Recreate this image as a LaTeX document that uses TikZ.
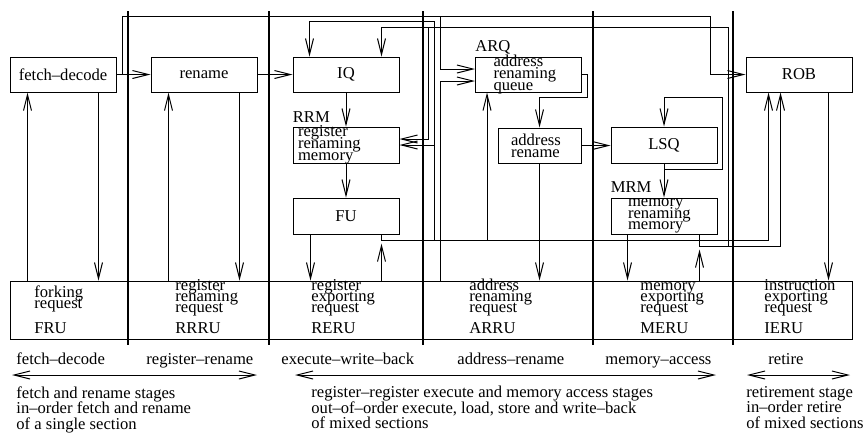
\documentclass[tikz,border=0pt]{standalone}
\usepackage{fontspec}
\setmainfont{Liberation Serif}
\usetikzlibrary{arrows.meta, calc}
\newcommand{\boxfont}{\fontsize{8.3}{5.9}\selectfont\lineskiplimit=-20pt\relax}
\newcommand{\unitfont}{\fontsize{8.3}{5.5}\selectfont\lineskiplimit=-20pt\relax}
\newcommand{\descfont}{\fontsize{8.3}{7.75}\selectfont\lineskiplimit=-20pt\relax}
\tikzset{%
    ln/.style={line width=0.5pt},
    lna/.style={line width=0.5pt, -{Straight Barb[length=8pt, width=4pt]}},
    lnda/.style={line width=0.5pt, {Straight Barb[length=8pt, width=4pt]}-{Straight Barb[length=8pt, width=4pt]}},
    sep/.style={line width=1.1pt},
    blk/.style={draw, line width=0.5pt, minimum width=53pt, minimum height=17.5pt, inner sep=0pt, font=\boxfont},
    multi/.style 2 args={inner xsep=#1, inner ysep=-2pt, text width=#2, align=left},
    txt/.style={inner sep=0pt, align=left, font=\boxfont},
}
\begin{document}
\begin{tikzpicture}[x=0.5pt, y=-0.5pt]
    \useasboundingbox (0,0) rectangle (864,435);
    % section borders
    \foreach \x in {128,269,423,593,733} \draw[sep] (\x,11) -- (\x,345);
    % blocks
    \node[blk] (fd) at (63,74.5) {fetch--decode};
    \node[blk] (ren) at (204,74.5) {rename};
    \node[blk] (iq) at (346,74.5) {IQ};
    \node[blk, multi={9pt}{35pt}] (arq) at (528.5,74.5) {address\\renaming\\queue};
    \node[blk] (rob) at (799,74.5) {ROB};
    \node[blk, minimum height=18pt, multi={2.5pt}{48pt}] (rrm) at (346,145) {register\\renaming\\memory};
    \node[blk, minimum width=41.5pt, multi={6.5pt}{28.5pt}] (arn) at (539.5,145.5) {address\\rename};
    \node[blk, minimum height=18pt] (lsq) at (664,145) {LSQ};
    \node[blk, minimum height=18pt] (fu) at (346,216) {FU};
    \node[blk, minimum height=18pt, multi={8.5pt}{36pt}] (mrm) at (664,216) {memory\\renaming\\memory};
    \node[blk, minimum width=421pt, minimum height=29pt] (unit) at (431,310) {};
    \node[txt, anchor=base west] (rrml) at ($(rrm.north west)+(0,-4)$) {RRM};
    \node[txt, anchor=base west] (arql) at ($(arq.north west)+(0,-5)$) {ARQ};
    \node[txt, anchor=base west] (mrml) at ($(mrm.north west)+(0,-5)$) {MRM};
    % units
    \node[txt, font=\unitfont, anchor=south west] (fru) at (34,334) {forking\\request\\[7pt]FRU};
    \node[txt, font=\unitfont, anchor=south west] (rrru) at (175,334) {register\\renaming\\request\\[5pt]RRRU};
    \node[txt, font=\unitfont, anchor=south west] (reru) at (311,334) {register\\exporting\\request\\[5pt]RERU};
    \node[txt, font=\unitfont, anchor=south west] (arru) at (469,334) {address\\renaming\\request\\[5pt]ARRU};
    \node[txt, font=\unitfont, anchor=south west] (meru) at (640,334) {memory\\exporting\\request\\[5pt]MERU};
    \node[txt, font=\unitfont, anchor=south west] (ieru) at (764,334) {instruction\\exporting\\request\\[5pt]IERU};
    % attach points
    \coordinate (fdu) at ($(fd.south west)+(18,0)$);
    \coordinate (fdd) at ($(fd.south east)+(-18,0)$);
    \coordinate (renu) at ($(ren.south west)+(18,0)$);
    \coordinate (rend) at ($(ren.south east)+(-18,0)$);
    \coordinate (iqa) at ($(iq.north west)+(17,0)$);
    \coordinate (iqb) at ($(iq.north east)+(-18,0)$);
    \coordinate (fud) at ($(fu.south west)+(18,0)$);
    \coordinate (fuo) at ($(fu.south east)+(-18,0)$);
    \coordinate (fub) at ($(fuo)+(0,6)$);
    \coordinate (fj) at ($(fub)+(53,0)$);
    \coordinate (arqb) at ($(arq.south west)+(12,0)$);
    \coordinate (mrmd) at ($(mrm.south west)+(17,0)$);
    \coordinate (mo) at ($(mrm.south east)+(-18,0)$);
    \coordinate (mb) at ($(mo)+(0,12)$);
    \coordinate (mj) at ($(mb)+(29,0)$);
    \coordinate (rj) at ($(iqb)+(47,-29)$);
    \coordinate (rin1) at ($(rob.south west)+(23,0)$);
    \coordinate (rin2) at ($(rob.south west)+(35,0)$);
    \coordinate (robd) at ($(rob.south east)+(-24,0)$);
    \coordinate (fdj) at ($(fd.east)+(6,0)$);
    \coordinate (topr) at (710,16);
    \coordinate (topq) at (440,16);
    \coordinate (lsqr) at ($(lsq.east)+(5,0)$);
    % pipeline
    \draw[lna] (fd) -- (ren);
    \draw[lna] (ren) -- (iq);
    \draw[lna] (fdj) |- (topr) |- (rob.west);
    \draw[lna] (topq) |- ($(arq.west)+(0,-5.5)$);
    \draw[lna] (unit.north -| topq) |- ($(arq.west)+(0,6.5)$);
    \draw[lna] (iq) -- (rrm);
    \draw[lna] (rrm) -- (fu);
    \draw[lna] (arq.east) -- ++(5,0) |- ($(arn.north)+(0,-30)$) -- (arn.north);
    \draw[lna] (arn.east) -- (lsq.west |- arn.east);
    \draw[lna] (lsq) -- (mrm);
    \draw[lna] (lsq.south) |- ($(lsqr)+(0,24)$) |- ($(lsq.north)+(0,-29)$) -- (lsq.north);
    % FU bus
    \draw[lna] (fuo) -- (fub) -| (rin1);
    \draw[lna] (fj) |- ($(iqa)+(0,-35)$) -- (iqa);
    \draw[lna] (fj |- rrm.east) -- (rrm.east);
    \draw[lna] (fub -| arqb) -- (arqb);
    % memory bus
    \draw[lna] (mo) -- (mb) -| (rin2);
    \draw[lna] (mj) |- ($(iqb)+(0,-29)$) -- (iqb);
    \draw[lna] (rj) |- ($(rrm.east)+(0,-6)$);
    % units
    \draw[lna] (fdu |- unit.north) -- (fdu);
    \draw[lna] (fdd) -- (fdd |- unit.north);
    \draw[lna] (renu |- unit.north) -- (renu);
    \draw[lna] (rend) -- (rend |- unit.north);
    \draw[lna] (fud) -- (fud |- unit.north);
    \draw[lna] (fuo |- unit.north) -- ($(fuo)+(0,9)$);
    \draw[lna] (arn.south) -- (arn.south |- unit.north);
    \draw[lna] (mrmd) -- (mrmd |- unit.north);
    \draw[lna] (mo |- unit.north) -- ($(mo)+(0,15)$);
    \draw[lna] (robd) -- (robd |- unit.north);
    % stages
    \node[txt, anchor=base west] (sfd) at (16,364) {fetch--decode};
    \node[txt, anchor=base west] (srr) at (146,364) {register--rename};
    \node[txt, anchor=base west] (sew) at (281,364) {execute--write--back};
    \node[txt, anchor=base west] (sar) at (457,364) {address--rename};
    \node[txt, anchor=base west] (sma) at (605,364) {memory--access};
    \node[txt, anchor=base west] (sre) at (768,364) {retire};
    \coordinate (a1l) at (12,375);
    \coordinate (a1r) at (257,375);
    \coordinate (a2l) at (295,375);
    \coordinate (a2r) at (716,375);
    \coordinate (a3l) at (747,375);
    \coordinate (a3r) at (850,375);
    \draw[lnda] (a1l) -- (a1r);
    \draw[lnda] (a2l) -- (a2r);
    \draw[lnda] (a3l) -- (a3r);
    \node[txt, font=\descfont, anchor=north west] (dfr) at (16,386) {fetch and rename stages\\in--order fetch and rename\\of a single section};
    \node[txt, font=\descfont, anchor=north west] (dex) at (311,386) {register--register execute and memory access stages\\out--of--order execute, load, store and write--back\\of mixed sections};
    \node[txt, font=\descfont, anchor=north west] (dre) at (746,386) {retirement stage\\in--order retire\\of mixed sections};
\end{tikzpicture}
\end{document}
